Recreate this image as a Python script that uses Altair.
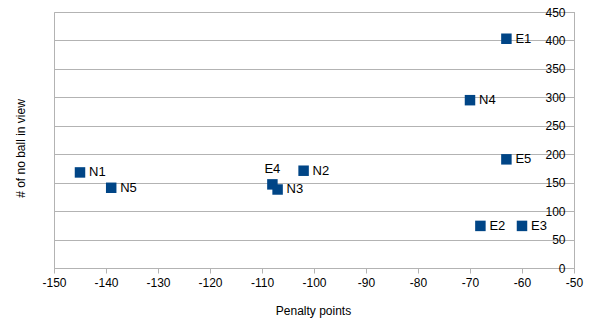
import altair as alt
import pandas as pd

# Teams, their penalty points and the count of "no ball in view" events
teams = ["E1", "N4", "E5", "N2", "E4", "N3", "E2", "E3", "N1", "N5"]
penalty = [-63, -70, -63, -102, -108, -107, -68, -60, -145, -139]
no_ball = [403, 295, 191, 171, 147, 138, 74, 74, 168, 141]
x_ticks = list(range(-150, -49, 10))
y_ticks = list(range(0, 451, 50))

df = pd.DataFrame({"team": teams, "penalty": penalty, "no_ball": no_ball})

W, H = 520, 256
GRID = "#b3b3b3"
MARK = "#004586"
FONT = "Liberation Sans"

x = alt.X(
    "penalty:Q",
    scale=alt.Scale(domain=[-150, -50], nice=False),
    axis=alt.Axis(
        values=x_ticks,
        labelExpr="toString(datum.value)",
        labelFlush=False,
        labelOverlap=False,
        grid=False,
        tickSize=5,
        tickColor=GRID,
        domainColor=GRID,
        labelPadding=4,
        labelFont=FONT,
        labelFontSize=12,
        labelColor="black",
        title="Penalty points",
        titleFont=FONT,
        titleFontSize=12,
        titleFontWeight="normal",
        titleColor="black",
        titleX=259,
        titleY=42,
        titleBaseline="middle",
        titleAnchor="middle",
    ),
)

y = alt.Y(
    "no_ball:Q",
    scale=alt.Scale(domain=[0, 450], nice=False),
    axis=alt.Axis(
        orient="left",
        offset=-W,
        values=y_ticks,
        labelFlush=False,
        labelOverlap=False,
        grid=True,
        gridColor=GRID,
        tickSize=8,
        tickColor=GRID,
        domainColor=GRID,
        labelPadding=1,
        labelFont=FONT,
        labelFontSize=12,
        labelColor="black",
        labelBaseline="middle",
        title="# of no ball in view",
        titleFont=FONT,
        titleFontSize=12,
        titleFontWeight="normal",
        titleColor="black",
        titleAngle=270,
        titleX=-554,
        titleY=136,
        titleAlign="center",
        titleBaseline="middle",
    ),
)

base = alt.Chart(df).encode(x=x, y=y)

points = base.mark_square(size=110, color=MARK, opacity=1)

side_labels = (
    base.transform_filter("datum.team != 'E4'")
    .mark_text(align="left", baseline="middle", dx=9, font=FONT, fontSize=13, color="black")
    .encode(text="team:N")
)

top_labels = (
    base.transform_filter("datum.team == 'E4'")
    .mark_text(align="center", baseline="middle", dy=-15, font=FONT, fontSize=13, color="black")
    .encode(text="team:N")
)

chart = (
    alt.layer(points, side_labels, top_labels)
    .properties(
        width=W,
        height=H,
        autosize=alt.AutoSizeParams(type="none"),
        padding={"left": 54, "top": 12, "right": 19, "bottom": 54},
        background="white",
    )
    .configure_view(stroke=GRID, strokeWidth=1)
)

chart.save("out.html", embed_options={"renderer": "svg", "actions": False})
